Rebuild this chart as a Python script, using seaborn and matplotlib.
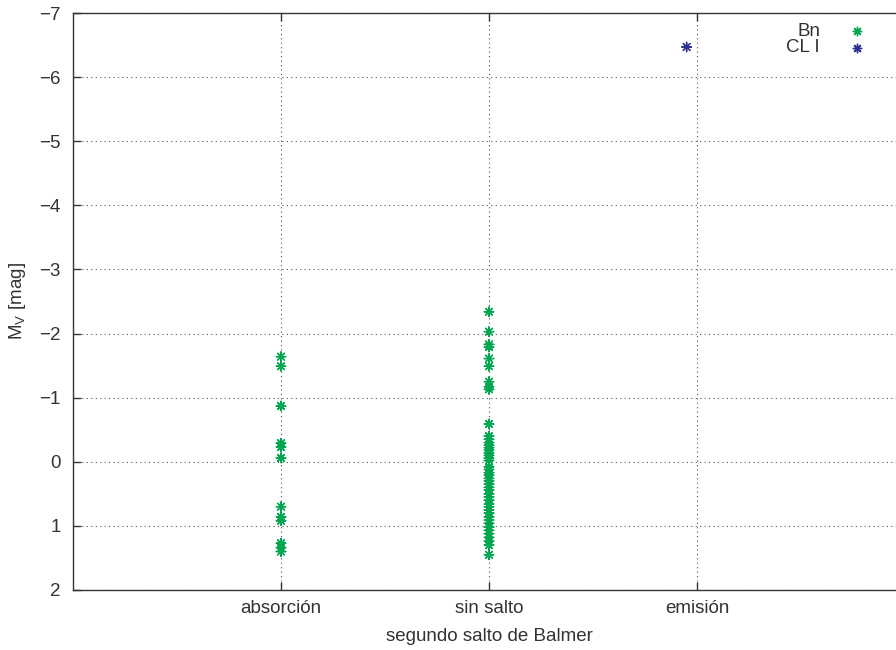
import numpy as np
import pandas as pd
import matplotlib
matplotlib.use("Agg")
import matplotlib.pyplot as plt
from matplotlib.lines import Line2D
import seaborn as sns

# Categories of the second Balmer jump and their axis positions
categories = ["absorción", "sin salto", "emisión"]
positions = [1, 2, 3]

# Absolute magnitudes M_V of Bn stars per category
bn_absorcion = [-1.64, -1.49, -0.87, -0.29, -0.23, -0.06, 0.70, 0.86, 0.92,
                1.27, 1.34, 1.40]
bn_sin_salto = [-2.34, -2.03, -1.83, -1.79, -1.61, -1.49, -1.25, -1.17, -1.13,
                -0.59, -0.40, -0.35, -0.30, -0.26, -0.22, -0.18, -0.14, -0.10,
                -0.06, -0.02, 0.08, 0.12, 0.17, 0.21, 0.26, 0.30, 0.35, 0.40,
                0.44, 0.50, 0.55, 0.60, 0.66, 0.70, 0.75, 0.80, 0.86, 0.91,
                0.96, 1.02, 1.07, 1.12, 1.18, 1.24, 1.30, 1.45]

# Supergiant (CL I) star
cli_emision = [-6.47]
cli_offset = -0.05

series_names = ["Bn", "CL I"]
series_colors = ["#00a651", "#2e3192"]

rows = []
for v in bn_absorcion:
    rows.append(("Bn", positions[0], v))
for v in bn_sin_salto:
    rows.append(("Bn", positions[1], v))
for v in cli_emision:
    rows.append(("CL I", positions[2] + cli_offset, v))
df = pd.DataFrame(rows, columns=["serie", "x", "mv"])

sns.set_style("ticks")
plt.rcParams["font.family"] = ["Liberation Sans", "DejaVu Sans"]

fig = plt.figure(figsize=(8.96, 6.5), dpi=100)
ax = fig.add_axes([73 / 896, 1 - 590 / 650, (905 - 73) / 896, (590 - 13) / 650])

asterisk = (8, 2, 0)
sns.scatterplot(data=df, x="x", y="mv", hue="serie", hue_order=series_names,
                palette=series_colors, marker=asterisk, s=46, linewidth=1.0,
                ax=ax, legend=False, zorder=3)

ax.set_xlim(0, 4)
ax.set_ylim(2, -7)
ax.set_xticks(positions)
ax.set_xticklabels(categories)
ax.set_yticks(np.arange(-7, 3, 1))

fs = 13.5
ink = "#333333"
for side in ["left", "right", "top", "bottom"]:
    ax.spines[side].set_visible(True)
    ax.spines[side].set_color(ink)
    ax.spines[side].set_linewidth(1.0)
ax.tick_params(axis="both", which="major", direction="in", length=6,
               width=1.0, color=ink, labelcolor=ink, labelsize=fs,
               top=True, right=True)
ax.tick_params(axis="y", pad=9)
ax.tick_params(axis="x", pad=7)
ax.grid(True, linestyle=(0, (1, 3)), color="#555555", linewidth=0.8)
ax.set_axisbelow(True)

ax.set_xlabel("segundo salto de Balmer", fontsize=fs, color=ink, labelpad=8)
ax.set_ylabel(r"M$_\mathregular{V}$ [mag]", fontsize=fs, color=ink, labelpad=8)

# Key in the upper right corner
legend_rows = [(31, series_names[0], series_colors[0]),
               (48, series_names[1], series_colors[1])]
for ypix, name, col in legend_rows:
    yf = 1 - ypix / 650
    fig.text(820 / 896, yf, name, ha="right", va="center", fontsize=fs,
             color=ink)
    fig.add_artist(Line2D([857 / 896], [yf], marker=asterisk, color=col,
                          markersize=6.8, markeredgewidth=1.0, linestyle="none",
                          transform=fig.transFigure))

fig.savefig("out.png", dpi=100)
